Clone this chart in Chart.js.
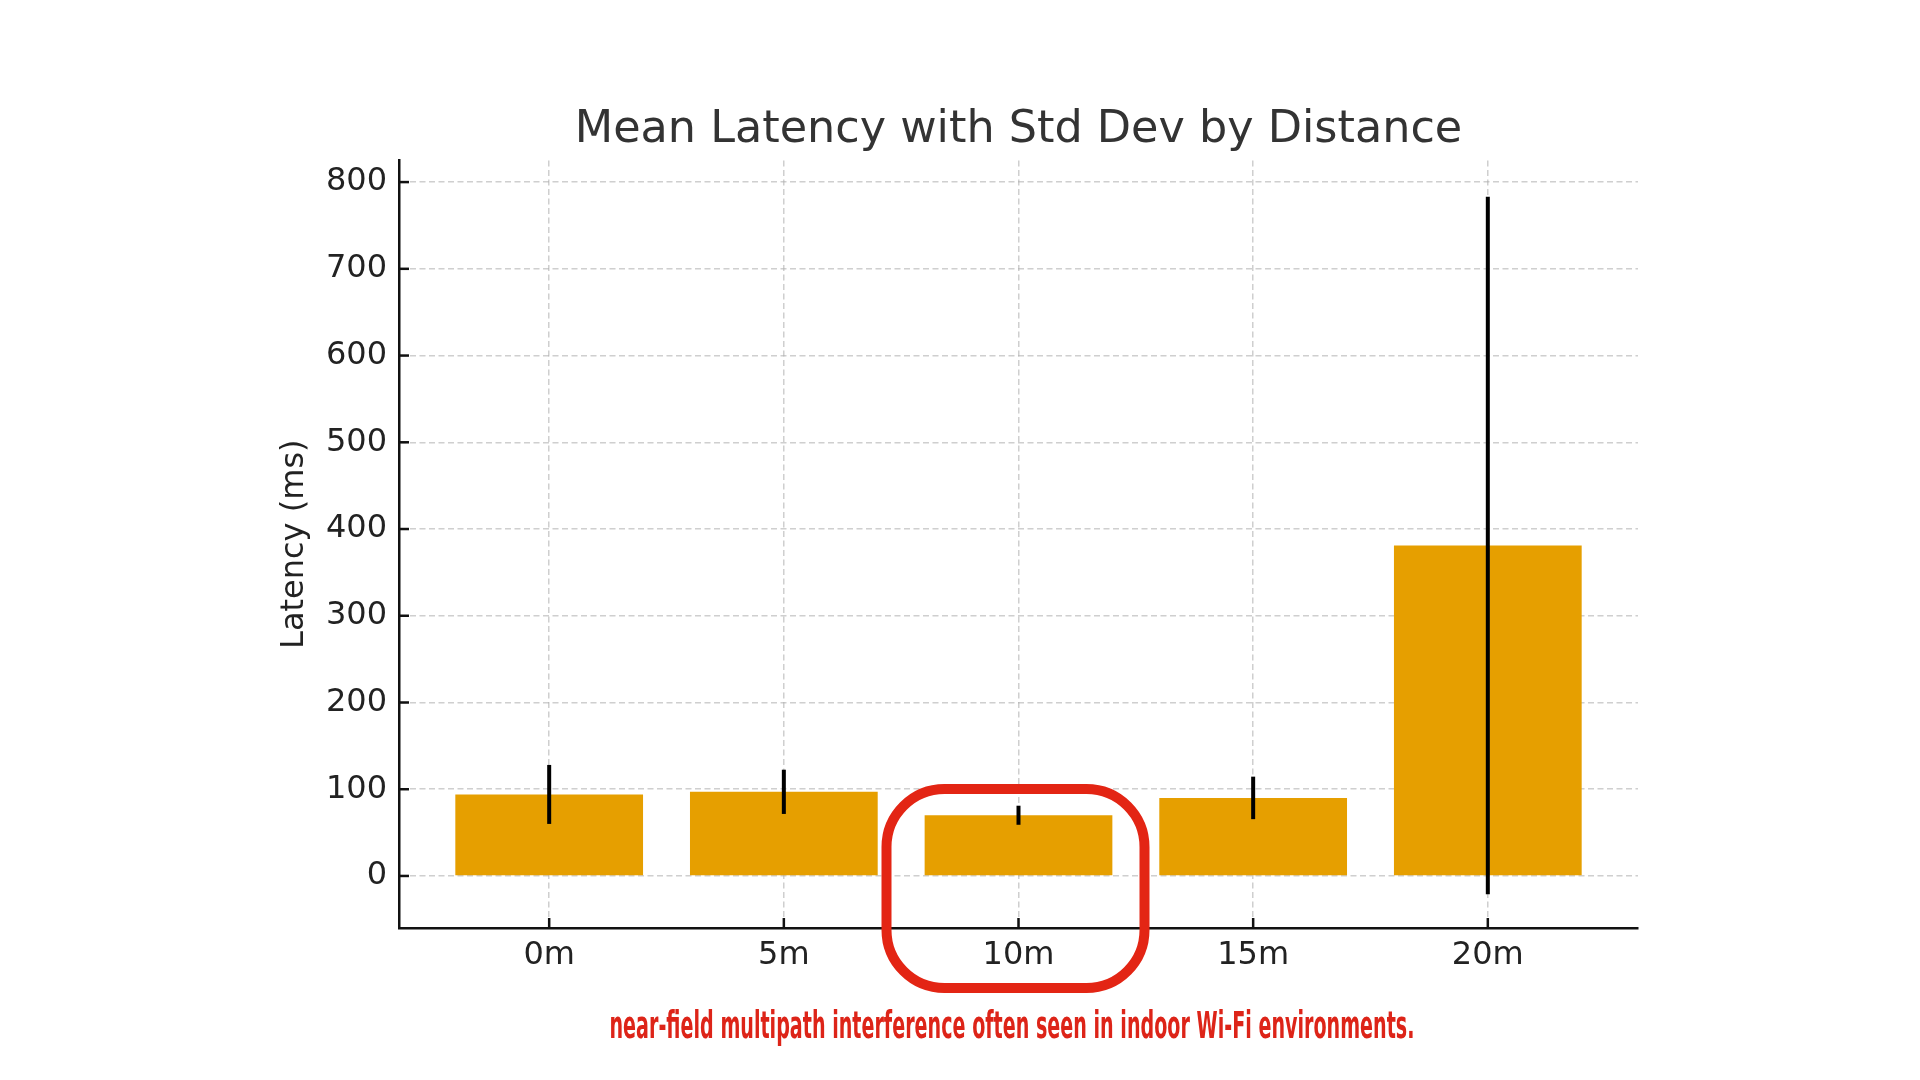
<!DOCTYPE html>
<html>
<head>
<meta charset="utf-8">
<script src="https://cdn.jsdelivr.net/npm/chart.js@4.4.0/dist/chart.umd.min.js"></script>
<style>
  html, body { margin: 0; padding: 0; background: #fff; }
  #wrap { width: 1920px; height: 1080px; }
</style>
</head>
<body>
<div id="wrap"><canvas id="latency-chart"></canvas></div>
<script>
const categories = ['0m', '5m', '10m', '15m', '20m']
const meanLatency = [94, 97, 70, 90, 381]
const stdLatency = [34, 25.5, 11, 24.5, 402]
const yTicks = [0, 100, 200, 300, 400, 500, 600, 700, 800]
const chartTitle = 'Mean Latency with Std Dev by Distance'
const yTitle = 'Latency (ms)'
const note = 'near-field multipath interference often seen in indoor Wi-Fi environments.'
const highlighted = '10m'

const FONT = "'DejaVu Sans', sans-serif"
const GRID = 'rgba(175, 175, 175, 0.6)'

// error bars, inward ticks, red highlight + note
const extras = {
    id: 'extras',
    afterDraw(chart) {
        const { ctx, chartArea, scales: { x, y } } = chart
        ctx.save()

        ctx.strokeStyle = '#111'
        ctx.lineWidth = 2.5
        yTicks.forEach(v => {
            const py = y.getPixelForValue(v)
            ctx.beginPath()
            ctx.moveTo(chartArea.left, py)
            ctx.lineTo(chartArea.left + 10, py)
            ctx.stroke()
        })
        categories.forEach((c, i) => {
            const px = x.getPixelForValue(i)
            ctx.beginPath()
            ctx.moveTo(px, chartArea.bottom)
            ctx.lineTo(px, chartArea.bottom - 10)
            ctx.stroke()
        })

        ctx.strokeStyle = '#000'
        ctx.lineWidth = 4
        meanLatency.forEach((m, i) => {
            const px = x.getPixelForValue(i)
            ctx.beginPath()
            ctx.moveTo(px, y.getPixelForValue(m - stdLatency[i]))
            ctx.lineTo(px, y.getPixelForValue(m + stdLatency[i]))
            ctx.stroke()
        })

        const cx = x.getPixelForValue(categories.indexOf(highlighted))
        ctx.strokeStyle = '#e32514'
        ctx.lineWidth = 10
        ctx.beginPath()
        ctx.roundRect(cx - 132, 789, 258, 199, 58)
        ctx.stroke()

        ctx.fillStyle = '#dd2418'
        ctx.font = "bold 37px 'Liberation Sans Narrow', 'DejaVu Sans Condensed', 'DejaVu Sans', sans-serif"
        ctx.textAlign = 'center'
        ctx.textBaseline = 'alphabetic'
        ctx.fillText(note, 1012, 1038, 805)

        ctx.restore()
    }
}

const chart = new Chart(document.querySelector('#latency-chart').getContext('2d'), {
    type: 'bar',
    data: {
        datasets: [{
            label: 'Mean latency',
            data: meanLatency.map((v, i) => ({ x: i, y: v })),
            backgroundColor: '#E69F00',
            borderWidth: 0,
            barPercentage: 0.8,
            categoryPercentage: 1.0,
        }]
    },
    options: {
        responsive: true,
        maintainAspectRatio: false,
        animation: false,
        layout: { padding: { left: 275, right: 282, top: 0, bottom: 0 } },
        plugins: {
            legend: { display: false },
            tooltip: { enabled: false },
            title: {
                display: true,
                text: chartTitle,
                fullSize: false,
                color: '#333',
                font: { family: FONT, size: 44.5, weight: 'normal' },
                padding: { top: 104, bottom: 3 },
            },
        },
        scales: {
            x: {
                type: 'linear',
                min: -0.64,
                max: 4.64,
                offset: false,
                z: 1,
                afterBuildTicks: scale => { scale.ticks = categories.map((c, i) => ({ value: i })) },
                afterFit: scale => { scale.height = 152 },
                ticks: {
                    callback: v => categories[v],
                    color: '#222',
                    font: { family: FONT, size: 32 },
                    padding: 8,
                    maxRotation: 0,
                    autoSkip: false,
                },
                grid: {
                    offset: false,
                    color: GRID,
                    lineWidth: 1.5,
                    drawTicks: false,
                },
                border: { display: true, color: '#111', width: 2.5, dash: [6, 3.5] },
            },
            y: {
                min: -60,
                max: 825,
                z: 1,
                afterBuildTicks: scale => { scale.ticks = yTicks.map(v => ({ value: v })) },
                afterFit: scale => { scale.width = 124 },
                ticks: {
                    color: '#222',
                    font: { family: FONT, size: 32 },
                    padding: 12,
                },
                grid: {
                    color: GRID,
                    lineWidth: 1.5,
                    drawTicks: false,
                },
                border: { display: true, color: '#111', width: 2.5, dash: [6, 3.5] },
                title: {
                    display: true,
                    text: yTitle,
                    color: '#222',
                    font: { family: FONT, size: 32 },
                    padding: 0,
                },
            },
        },
    },
    plugins: [extras],
})
</script>
</body>
</html>
